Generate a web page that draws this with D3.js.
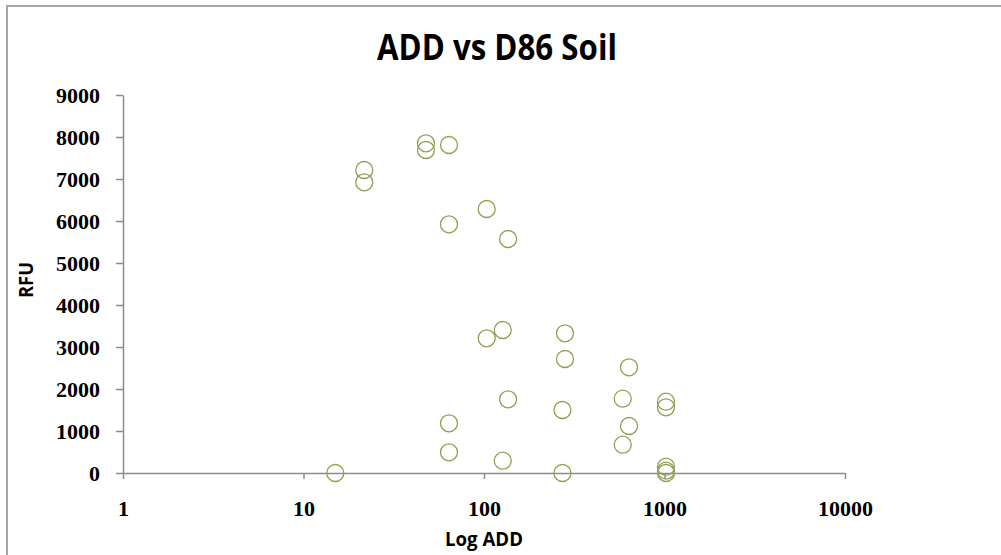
<!doctype html>
<html lang=en>
<head>
  <meta charset="utf-8">
  <title>ADD vs D86 Soil</title>
  <script src="https://cdn.jsdelivr.net/npm/d3@7"></script>
  <style>
body {
  margin: 0;
  background: white;
  overflow: hidden;
}
  </style>
</head>
<body>
<div id=content></div>
<script>
  // values
  var addValues = [15, 64, 64, 103.5, 127, 136, 127, 281, 281, 272, 272,
                   636, 587, 636, 587, 1019, 1019, 1019, 1019, 1019,
                   21.7, 21.7, 47.7, 47.7, 64, 103.5, 64, 136]
  var rfuValues = [0, 1183, 493, 3207, 3405, 1755, 293, 3326, 2714, 1500, 0,
                   2517, 1770, 1119, 674, 1698, 1564, 150, 55, 0,
                   7214, 6921, 7850, 7690, 7810, 6286, 5921, 5571]
  var xTicks = [1, 10, 100, 1000, 10000]
  var yTicks = [0, 1000, 2000, 3000, 4000, 5000, 6000, 7000, 8000, 9000]

  var W = 1001, H = 555

  var svg = d3.select("#content").append("svg")
      .attr("width", W)
      .attr("height", H)

  // chart area frame (only top and left edge are visible)
  svg.append("rect")
      .attr("x", 7)
      .attr("y", 6)
      .attr("width", W + 20)
      .attr("height", H + 20)
      .attr("fill", "white")
      .attr("stroke", "#a6a6a6")
      .attr("stroke-width", 2)

  var x = d3.scaleLog()
      .domain([1, 10000])
      .range([123, 845])

  var y = d3.scaleLinear()
      .domain([0, 9000])
      .range([473, 95])

  var tickFont = "'Liberation Serif', serif"
  var labelFont = "'Open Sans', 'Noto Sans', sans-serif"

  var yaxis = d3.axisLeft(y)
      .tickValues(yTicks)
      .tickSize(7)
      .tickSizeOuter(0)
      .tickPadding(16)
      .tickFormat(d3.format("d"))
  var gy = svg.append("g")
      .attr("transform", "translate(" + x(1) + ",0)")
      .call(yaxis)

  var xaxis = d3.axisBottom(x)
      .tickValues(xTicks)
      .tickSize(6)
      .tickSizeOuter(0)
      .tickFormat(d3.format("d"))
  var gx = svg.append("g")
      .attr("transform", "translate(0," + y(0) + ")")
      .call(xaxis)

  svg.selectAll(".domain, .tick line")
      .attr("stroke", "#8c8c8c")
      .attr("stroke-width", 1.5)

  svg.selectAll(".tick text")
      .attr("fill", "black")
      .style("font-family", tickFont)
      .style("font-weight", "bold")
      .style("font-size", "22px")

  gx.selectAll(".tick text")
      .attr("y", 43)
      .attr("dy", 0)

  // markers
  var pts = addValues.map((a, i) => ({add: a, rfu: rfuValues[i]}))
  svg.append("g").selectAll("circle")
      .data(pts)
      .enter().append("circle")
      .attr("cx", d => x(d.add))
      .attr("cy", d => y(d.rfu))
      .attr("r", 8.5)
      .attr("fill", "none")
      .attr("stroke", "#929f55")
      .attr("stroke-width", 1.3)

  svg.append("text")
      .attr("x", 497)
      .attr("y", 60)
      .attr("text-anchor", "middle")
      .attr("textLength", 240)
      .attr("lengthAdjust", "spacingAndGlyphs")
      .style("font-family", labelFont)
      .style("font-weight", "bold")
      .style("font-size", "35px")
      .text("ADD vs D86 Soil")

  svg.append("text")
      .attr("x", 484)
      .attr("y", 546)
      .attr("text-anchor", "middle")
      .attr("textLength", 78)
      .attr("lengthAdjust", "spacingAndGlyphs")
      .style("font-family", labelFont)
      .style("font-weight", "bold")
      .style("font-size", "20px")
      .text("Log ADD")

  svg.append("text")
      .attr("transform", "translate(33,280) rotate(-90)")
      .attr("text-anchor", "middle")
      .attr("textLength", 36)
      .attr("lengthAdjust", "spacingAndGlyphs")
      .style("font-family", labelFont)
      .style("font-weight", "bold")
      .style("font-size", "19px")
      .text("RFU")
</script>
</body>
</html>
